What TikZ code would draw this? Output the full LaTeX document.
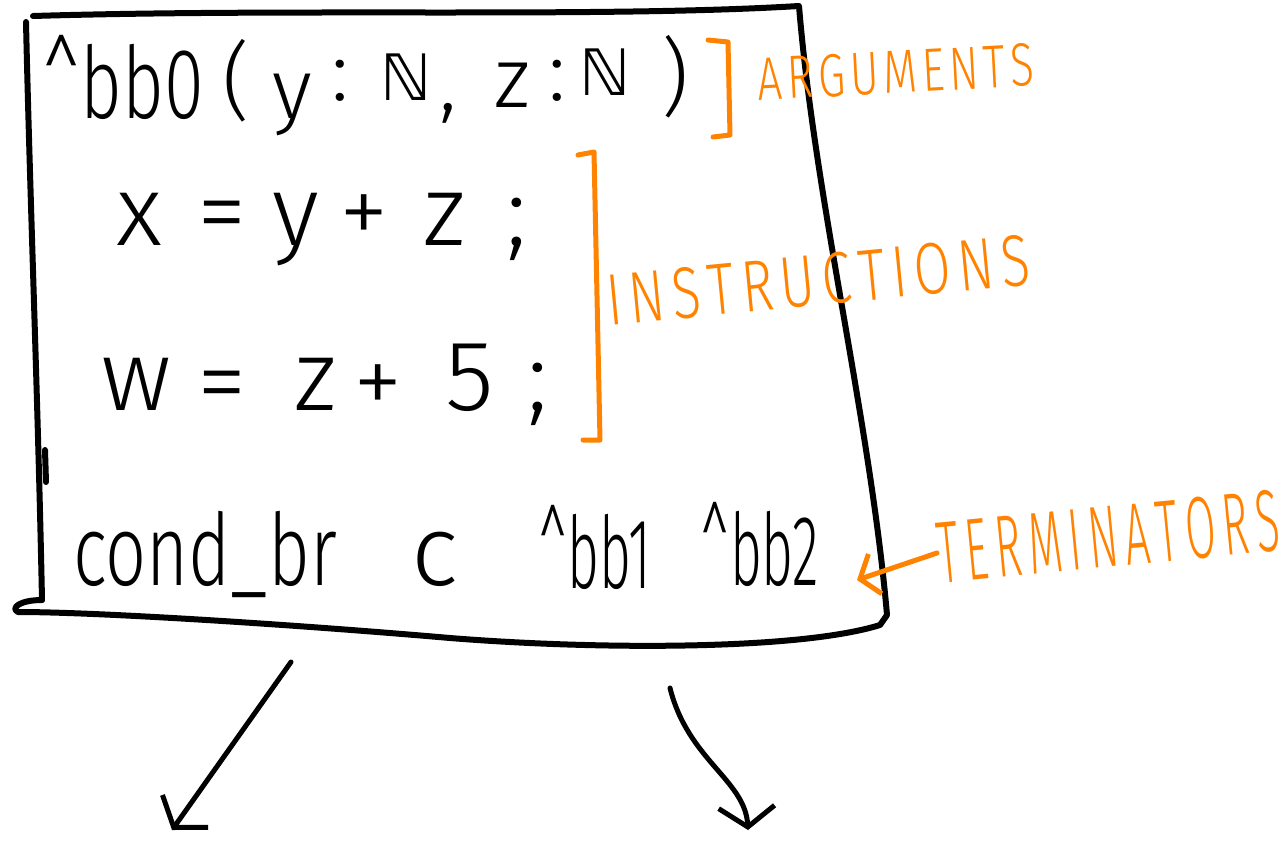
\documentclass[tikz,border=0pt]{standalone}
\usepackage{fontspec}
\usetikzlibrary{arrows.meta}
\newfontfamily\hand{Fira Sans Light}
\newfontfamily\handzero{Fira Sans Light}[FakeStretch=0.72]
\newfontfamily\handcond{Fira Sans Light}[FakeStretch=0.72]
\newfontfamily\handbb{Fira Sans Light}[FakeStretch=0.55]
\newfontfamily\handarg{Fira Sans Light}[FakeStretch=0.72,LetterSpace=8,Kerning=Off]
\newfontfamily\handins{Fira Sans Light}[FakeStretch=0.73,LetterSpace=10,Kerning=Off]
\newfontfamily\handterm{Fira Sans Light}[FakeStretch=0.5,LetterSpace=8,Kerning=Off]
\newfontfamily\sym{DejaVu Sans}
\definecolor{penorange}{RGB}{255,130,0}
\tikzset{
  boxline/.style={line width=6pt, black, line cap=round, line join=round},
  hw/.style={inner sep=0pt, anchor=base},
  lone/.style={hw, font=\hand\fontsize{85}{90}\selectfont},
  ltwo/.style={hw, font=\hand\fontsize{100}{110}\selectfont},
  nat/.style={hw, font=\sym\fontsize{64}{70}\selectfont},
  note/.style={hw, text=penorange},
  bracket/.style={line width=5pt, draw=penorange, line cap=round, line join=round},
  flow/.style={line width=5pt, line cap=round, -{Straight Barb[length=20pt,width=56pt]}},
}
\begin{document}
\begin{tikzpicture}[x=1pt,y=-1pt]
\useasboundingbox (0,0) rectangle (1285,849);
% box
\draw[boxline] (33,16) .. controls (300,8) and (600,18) .. (799,6)
  .. controls (815,200) and (870,420) .. (887,615) -- (880,625)
  .. controls (800,650) and (600,650) .. (450,638)
  .. controls (300,625) and (100,612) .. (18,612)
  .. controls (10,608) and (20,600) .. (42,600);
\draw[boxline] (26,22) .. controls (30,200) and (38,400) .. (42,600);
\draw[boxline] (45,450) -- (46,482);
% line 1
\node[hw, font=\handzero\fontsize{100}{110}\selectfont] (bbzero) at (123,118) {\textasciicircum bb0};
\node[lone] (lpar) at (236,110) {(};
\node[lone] (yarg) at (292,118) {y};
\node[lone] (colone) at (340,100) {:};
\node[nat] (natone) at (406,100) {ℕ};
\node[lone] (comma) at (448,110) {,};
\node[lone] (zarg) at (512,107) {z};
\node[lone] (coltwo) at (557,100) {:};
\node[nat] (nattwo) at (605,95) {ℕ};
\node[lone] (rpar) at (675,106) {)};
% line 2
\node[ltwo] (xa) at (139,245) {x};
\node[ltwo] (eqa) at (222,245) {=};
\node[ltwo] (ya) at (296,245) {y};
\node[ltwo] (plusa) at (364,245) {+};
\node[ltwo] (za) at (445,245) {z};
\node[ltwo] (semia) at (517,245) {;};
% line 3
\node[ltwo] (wb) at (136,410) {w};
\node[ltwo] (eqb) at (222,415) {=};
\node[ltwo] (zb) at (316,410) {z};
\node[ltwo] (plusb) at (378,415) {+};
\node[ltwo] (fiveb) at (470,410) {5};
\node[ltwo] (semib) at (538,410) {;};
% line 4
\node[hw, font=\handcond\fontsize{100}{110}\selectfont] (condbr) at (205,585) {cond\_br};
\node[ltwo] (cond) at (435,585) {c};
\node[hw, font=\handbb\fontsize{100}{110}\selectfont] (bbone) at (595,588) {\textasciicircum bb1};
\node[hw, font=\handbb\fontsize{100}{110}\selectfont] (bbtwo) at (760,585) {\textasciicircum bb2};
% annotations
\draw[bracket] (708,40) -- (728,42) -- (730,135) -- (713,137);
\node[note, font=\handarg\fontsize{61}{70}\selectfont, rotate=3] (args) at (897,93) {ARGUMENTS};
\draw[bracket] (578,155) -- (594,152) -- (600,440) -- (583,440);
\node[note, font=\handins\fontsize{73}{80}\selectfont, rotate=5.5] (instr) at (821,305) {INSTRUCTIONS};
\node[note, font=\handterm\fontsize{88}{95}\selectfont, rotate=5.5] (terms) at (1111,567) {TERMINATORS};
\coordinate (tstart) at (937,553);
\coordinate (tend) at (857,580);
\draw[bracket, -{Straight Barb[length=16pt,width=42pt]}] (tstart) -- (tend);
% exits
\coordinate (aones) at (291,662);
\coordinate (aonee) at (172,830);
\draw[flow] (aones) -- (aonee);
\coordinate (atwos) at (670,688);
\coordinate (atwoe) at (748,830);
\draw[flow] (atwos) .. controls (688,760) and (745,780) .. (atwoe);
\end{tikzpicture}
\end{document}
